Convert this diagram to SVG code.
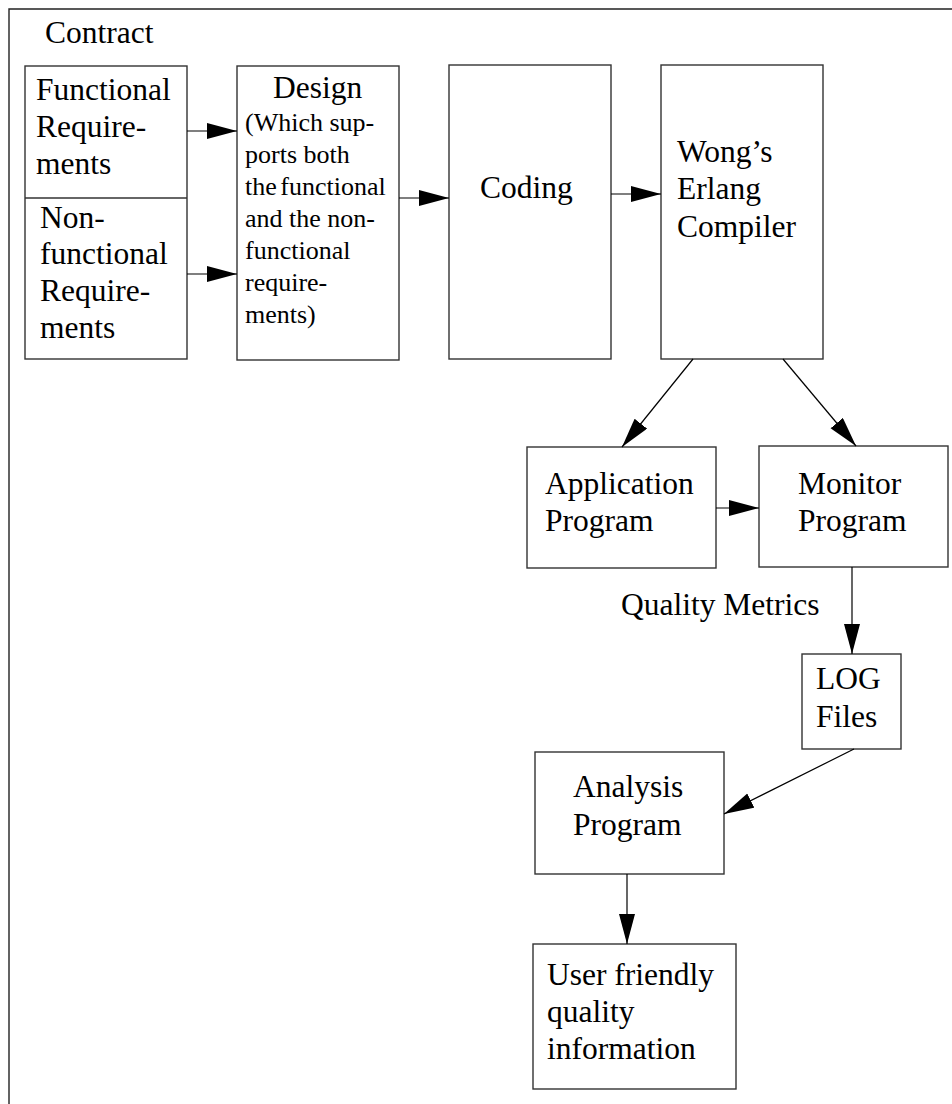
<svg xmlns="http://www.w3.org/2000/svg" width="952" height="1104" viewBox="0 0 952 1104">
  <defs>
    <marker id="arrow" markerUnits="userSpaceOnUse" markerWidth="30" markerHeight="18" refX="30" refY="8" orient="auto">
      <path d="M0,0 L30,8 L0,16 Z" fill="#000"/>
    </marker>
    <style>
      .box { fill: #fff; stroke: #333; stroke-width: 1.4; }
      .frame { fill: none; stroke: #222; stroke-width: 1.4; }
      .conn { fill: none; stroke: #000; stroke-width: 1.2; marker-end: url(#arrow); }
      text { font-family: "Liberation Serif", "Times New Roman", serif; font-size: 31.5px; fill: #000; }
      .small { font-size: 26px; }
    </style>
  </defs>

  <rect width="952" height="1104" fill="#fff"/>

  <!-- contract frame -->
  <g id="contract">
    <path class="frame" d="M9,1104 V9 H952"/>
    <text x="45" y="43">Contract</text>
  </g>

  <g id="requirements">
    <rect class="box" x="25" y="66" width="162" height="293"/>
    <line x1="25" y1="198" x2="187" y2="198" stroke="#333" stroke-width="1.4"/>
    <text x="36" y="100">Functional</text>
    <text x="36" y="137">Require-</text>
    <text x="36" y="174">ments</text>
    <text x="40" y="228">Non-</text>
    <text x="40" y="264">functional</text>
    <text x="40" y="301">Require-</text>
    <text x="40" y="338">ments</text>
  </g>

  <g id="design">
    <rect class="box" x="237" y="66" width="162" height="294"/>
    <text x="273" y="98">Design</text>
    <text class="small" x="245" y="131">(Which sup-</text>
    <text class="small" x="245" y="163">ports both</text>
    <text class="small" x="245" y="195" word-spacing="-3">the functional</text>
    <text class="small" x="245" y="227">and the non-</text>
    <text class="small" x="245" y="259">functional</text>
    <text class="small" x="245" y="291">require-</text>
    <text class="small" x="245" y="323">ments)</text>
  </g>

  <g id="coding">
    <rect class="box" x="449" y="65" width="162" height="294"/>
    <text x="480" y="198">Coding</text>
  </g>

  <g id="compiler">
    <rect class="box" x="661" y="65" width="162" height="294"/>
    <text x="677" y="162">Wong’s</text>
    <text x="677" y="199">Erlang</text>
    <text x="677" y="237">Compiler</text>
  </g>

  <g id="application">
    <rect class="box" x="527" y="447" width="189" height="121"/>
    <text x="545" y="494">Application</text>
    <text x="545" y="531">Program</text>
  </g>

  <g id="monitor">
    <rect class="box" x="759" y="446" width="189" height="121"/>
    <text x="798" y="494">Monitor</text>
    <text x="798" y="531">Program</text>
  </g>

  <g id="quality-metrics">
    <text x="621" y="615">Quality Metrics</text>
  </g>

  <g id="log">
    <rect class="box" x="802" y="654" width="99" height="95"/>
    <text x="816" y="689">LOG</text>
    <text x="816" y="727">Files</text>
  </g>

  <g id="analysis">
    <rect class="box" x="535" y="752" width="189" height="122"/>
    <text x="573" y="797">Analysis</text>
    <text x="573" y="835">Program</text>
  </g>

  <g id="user-info">
    <rect class="box" x="533" y="944" width="203" height="145"/>
    <text x="547" y="985">User friendly</text>
    <text x="547" y="1022">quality</text>
    <text x="547" y="1059">information</text>
  </g>

  <g id="connectors">
    <line class="conn" x1="187" y1="131" x2="237" y2="131"/>
    <line class="conn" x1="187" y1="274" x2="237" y2="274"/>
    <line class="conn" x1="399" y1="198" x2="449" y2="198"/>
    <line class="conn" x1="611" y1="194" x2="661" y2="194"/>
    <line class="conn" x1="693" y1="359" x2="622" y2="447"/>
    <line class="conn" x1="783" y1="359" x2="856" y2="446"/>
    <line class="conn" x1="716" y1="508" x2="759" y2="508"/>
    <line class="conn" x1="852" y1="567" x2="852" y2="654"/>
    <line class="conn" x1="854" y1="749" x2="724" y2="814"/>
    <line class="conn" x1="627" y1="874" x2="627" y2="944"/>
  </g>
</svg>
